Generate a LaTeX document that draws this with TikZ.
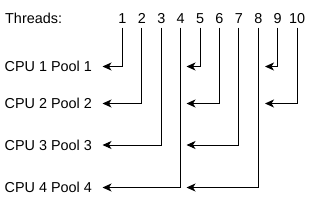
\documentclass[tikz,border=0pt]{standalone}
\usepackage{fontspec}
\setmainfont{Liberation Sans}
\usetikzlibrary{arrows.meta}
\begin{document}
\begin{tikzpicture}[x=1pt,y=-1pt,
  lbl/.style={inner sep=0pt,font=\fontsize{14.4}{16}\selectfont},
  conn/.style={line width=1pt,-{Stealth[length=9pt,width=8pt,inset=2.5pt]}}]
\useasboundingbox (0,0) rectangle (310,201);
\node[lbl,anchor=base west] (thr) at (5,23.3) {Threads:};
\foreach \i in {1,...,10}{
  \node[lbl,anchor=base] (t\i) at ({122.5+19.4*(\i-1)},23.3) {\i};
  \coordinate (s\i) at ({122.5+19.4*(\i-1)},27.7);
}
\node[lbl,anchor=base west] (p1) at (4.5,71.2) {CPU 1 Pool 1};
\node[lbl,anchor=base west] (p2) at (4.5,108.3) {CPU 2 Pool 2};
\node[lbl,anchor=base west] (p3) at (4.5,150) {CPU 3 Pool 3};
\node[lbl,anchor=base west] (p4) at (4.5,192.5) {CPU 4 Pool 4};
% arrow end points
\coordinate (a1) at (102.5,66.5);  \coordinate (b1) at (186.5,66.5);  \coordinate (c1) at (265,66.5);
\coordinate (a2) at (102.5,103.5); \coordinate (b2) at (186.5,103.5); \coordinate (c2) at (265,103.5);
\coordinate (a3) at (102.5,145);   \coordinate (b3) at (186.5,145);
\coordinate (a4) at (102.5,187.5); \coordinate (b4) at (186.5,187.5);
\draw[conn] (s1) |- (a1);
\draw[conn] (s5) |- (b1);
\draw[conn] (s9) |- (c1);
\draw[conn] (s2) |- (a2);
\draw[conn] (s6) |- (b2);
\draw[conn] (s10) |- (c2);
\draw[conn] (s3) |- (a3);
\draw[conn] (s7) |- (b3);
\draw[conn] (s4) |- (a4);
\draw[conn] (s8) |- (b4);
\end{tikzpicture}
\end{document}
